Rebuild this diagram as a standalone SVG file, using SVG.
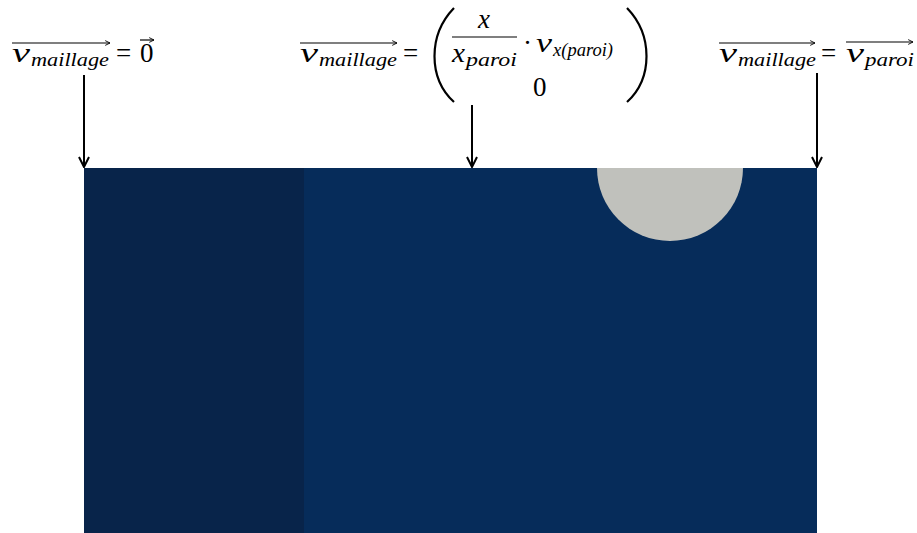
<svg xmlns="http://www.w3.org/2000/svg" width="917" height="533" viewBox="0 0 917 533">
<defs>
<style>
.m{font-family:"Liberation Serif","DejaVu Serif",serif;font-style:italic;fill:#000}
.r{font-family:"Liberation Serif","DejaVu Serif",serif;fill:#000}
.big{font-size:27px}
.sub{font-size:19px}
.ln{stroke:#000;stroke-width:2;fill:none}
.ol{stroke:#000;stroke-width:1.2;fill:none}
</style>
<marker id="ah" viewBox="0 0 12 12" refX="11" refY="6" markerWidth="12" markerHeight="12" orient="auto" markerUnits="userSpaceOnUse"><path d="M1,1 L11,6 L1,11" fill="none" stroke="#000" stroke-width="2"/></marker>
<marker id="oh" viewBox="0 0 10 10" refX="9" refY="5" markerWidth="6" markerHeight="6" orient="auto" markerUnits="userSpaceOnUse"><path d="M1,1 L9,5 L1,9" fill="none" stroke="#000" stroke-width="1.5"/></marker>
</defs>
<g id="domain">
<rect x="84" y="168" width="733" height="365" fill="#062c5a"/>
<rect x="84" y="168" width="220" height="365" fill="#08244a"/>
<path d="M597,168 A73,73 0 0 0 743,168 Z" fill="#c0c1bc"/>
</g>
<g id="label-left">
<line class="ol" x1="12" y1="43" x2="110" y2="43" marker-end="url(#oh)"/>
<text class="m big" x="12" y="62" textLength="18" lengthAdjust="spacingAndGlyphs">v</text>
<text class="m sub" x="31" y="66" textLength="78" lengthAdjust="spacingAndGlyphs">maillage</text>
<text class="r big" x="116" y="62">=</text>
<line class="ol" x1="140" y1="40" x2="154" y2="40" marker-end="url(#oh)"/>
<text class="r big" x="140" y="62">0</text>
</g>
<g id="label-middle">
<line class="ol" x1="300" y1="43" x2="397" y2="43" marker-end="url(#oh)"/>
<text class="m big" x="300" y="62" textLength="18" lengthAdjust="spacingAndGlyphs">v</text>
<text class="m sub" x="319" y="66" textLength="78" lengthAdjust="spacingAndGlyphs">maillage</text>
<text class="r big" x="403" y="62">=</text>
<path d="M454,8 C428,35 428,78 454,102" fill="none" stroke="#000" stroke-width="2.2"/>
<text class="m big" x="478" y="28">x</text>
<line x1="452" y1="37" x2="517" y2="37" stroke="#000" stroke-width="1.2"/>
<text class="m big" x="452" y="62" textLength="13" lengthAdjust="spacingAndGlyphs">x</text>
<text class="m sub" x="466" y="66" textLength="51" lengthAdjust="spacingAndGlyphs">paroi</text>
<text class="r big" x="523" y="52">·</text>
<text class="m big" x="536" y="52" textLength="16" lengthAdjust="spacingAndGlyphs">v</text>
<text class="m sub" x="553" y="56" textLength="60" lengthAdjust="spacingAndGlyphs">x(paroi)</text>
<text class="r big" x="533" y="96">0</text>
<path d="M627,8 C653,35 653,78 627,102" fill="none" stroke="#000" stroke-width="2.2"/>
</g>
<g id="label-right">
<line class="ol" x1="719" y1="43" x2="815" y2="43" marker-end="url(#oh)"/>
<text class="m big" x="719" y="62" textLength="18" lengthAdjust="spacingAndGlyphs">v</text>
<text class="m sub" x="738" y="66" textLength="78" lengthAdjust="spacingAndGlyphs">maillage</text>
<text class="r big" x="821" y="62">=</text>
<line class="ol" x1="846" y1="42" x2="913" y2="42" marker-end="url(#oh)"/>
<text class="m big" x="846" y="62" textLength="18" lengthAdjust="spacingAndGlyphs">v</text>
<text class="m sub" x="865" y="66" textLength="49" lengthAdjust="spacingAndGlyphs">paroi</text>
</g>
<g id="connectors">
<line class="ln" x1="84" y1="75" x2="84" y2="167" marker-end="url(#ah)"/>
<line class="ln" x1="472" y1="105" x2="472" y2="167" marker-end="url(#ah)"/>
<line class="ln" x1="817" y1="73" x2="817" y2="167" marker-end="url(#ah)"/>
</g>
</svg>
